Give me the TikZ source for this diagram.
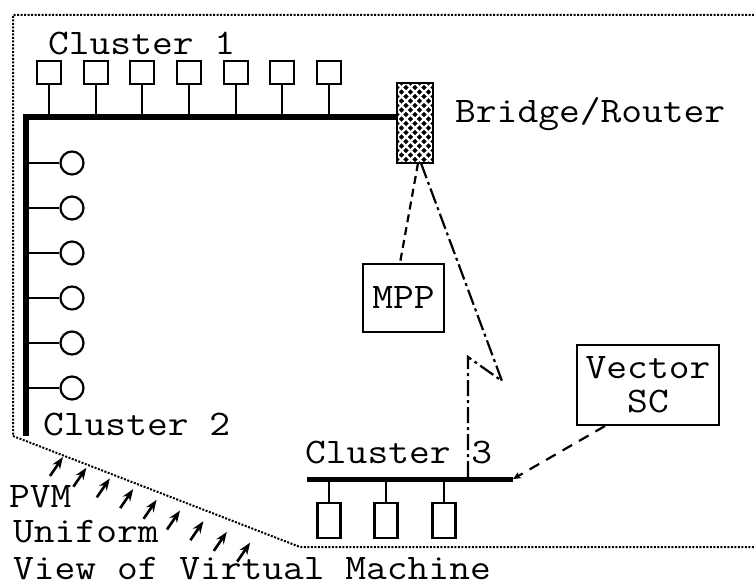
\documentclass[tikz,border=0pt]{standalone}
\usepackage{fontspec}
\usepackage{graphicx}
\usetikzlibrary{arrows.meta}
\newcommand\wtt[1]{\scalebox{1.12}[1]{#1}}
\begin{document}
\begin{tikzpicture}[x=1pt,y=-1pt,
  lbl/.style={font=\ttfamily\fontsize{36}{40}\selectfont, inner sep=0pt},
  sq/.style={draw, line width=2.2pt, minimum width=24pt, minimum height=23pt, inner sep=0pt},
  tall/.style={draw, line width=2.2pt, minimum width=23pt, minimum height=35pt, inner sep=0pt},
  ring/.style={draw, circle, line width=2.2pt, minimum size=23pt, inner sep=0pt},
  stem/.style={line width=2.2pt},
  bus/.style={line width=6pt, line join=miter},
  box/.style={draw, line width=2pt, inner sep=0pt, font=\ttfamily\fontsize{36}{34}\selectfont, align=center},
  frame/.style={line width=2pt, dash pattern=on 2pt off 1.5pt},
  smallarrow/.style={line width=2.6pt, -{Stealth[length=12pt,width=9pt]}}
]
\useasboundingbox (0,0) rectangle (754,585);

% outline of the virtual machine
\coordinate (fTR) at (754,15);
\coordinate (fTL) at (13,15);
\coordinate (fBL) at (13,436);
\coordinate (fD) at (300,547);
\coordinate (fBR) at (754,547);
\draw[frame] (fTR) -- (fTL) -- (fBL) -- (fD) -- (fBR);

% bridge / router
\node[draw, fill=black, minimum width=36pt, minimum height=80pt, inner sep=0pt] (bridge) at (415,123) {};
\begin{scope}
  \clip (bridge.south west) rectangle (bridge.north east);
  \foreach \k in {-12,...,20} {
    \draw[white, line width=2.2pt] (397+9*\k,83) -- ++(90,90);
    \draw[white, line width=2.2pt] (397+9*\k,83) -- ++(-90,90);
  }
\end{scope}
\draw[line width=2.5pt] (bridge.south west) rectangle (bridge.north east);
\node[lbl, anchor=base west] (brlabel) at (455,123) {\wtt{Bridge/Router}};

% cluster 1 / 2 bus
\coordinate (busB) at (26,436);
\coordinate (busL) at (26,117);
\draw[bus] (busB) -- (busL) -- (bridge.west |- busL);

\node[lbl, anchor=base west] (c1label) at (48,55) {\wtt{Cluster 1}};
\foreach \i in {0,...,6} {
  \node[sq] (s\i) at (49+46.67*\i,72.5) {};
  \draw[stem] (s\i.south) -- (s\i.south |- busL);
}

\foreach \i in {0,...,5} {
  \node[ring] (r\i) at (72,163+45*\i) {};
  \draw[stem] (r\i.west) -- (r\i.west -| busL);
}
\node[lbl, anchor=base west] (c2label) at (43,435) {\wtt{Cluster 2}};

% cluster 3
\coordinate (b3L) at (307,479);
\coordinate (b3R) at (513,479);
\draw[line width=5pt] (b3L) -- (b3R);
\node[lbl, anchor=base west] (c3label) at (305,463) {\wtt{Cluster 3}};
\foreach \i/\x in {0/329,1/386,2/444} {
  \node[tall] (t\i) at (\x,520.5) {};
  \draw[stem] (t\i.north) -- (t\i.north |- b3L);
}

% MPP and Vector SC
\node[box, minimum width=81pt, minimum height=68pt] (mpp) at (403.5,298) {\wtt{MPP}};
\node[box, minimum width=142pt, minimum height=80pt] (vsc) at (648,385) {\wtt{Vector}\\\wtt{SC}};

% connections
\draw[line width=2.2pt, dash pattern=on 8pt off 5pt] ([xshift=3pt]bridge.south) -- ([xshift=-3.5pt]mpp.north);
\coordinate (zz1) at (502,381);
\coordinate (zz2) at (468,357);
\draw[line width=2.2pt, dash pattern=on 16pt off 4pt on 3pt off 4pt] ([xshift=6pt]bridge.south) -- (zz1) -- (zz2) -- (zz2 |- b3L);
\draw[line width=2.2pt, dash pattern=on 11pt off 8pt, -{Stealth[length=8pt,width=7pt]}] ([xshift=-43pt]vsc.south) -- (b3R);

% PVM labels and arrows
\node[lbl, anchor=base west] (pvm) at (9,507) {\wtt{PVM}};
\node[lbl, anchor=base west] (unif) at (13,542) {\wtt{Uniform}};
\node[lbl, anchor=base west] (view) at (13,579) {\wtt{View of Virtual Machine}};
\foreach \i in {0,...,8} {
  \coordinate (at\i) at (50+23.4*\i,476+10.7*\i);
  \coordinate (ah\i) at (63+23.4*\i,457+10.7*\i);
  \draw[smallarrow] (at\i) -- (ah\i);
}
\end{tikzpicture}
\end{document}
